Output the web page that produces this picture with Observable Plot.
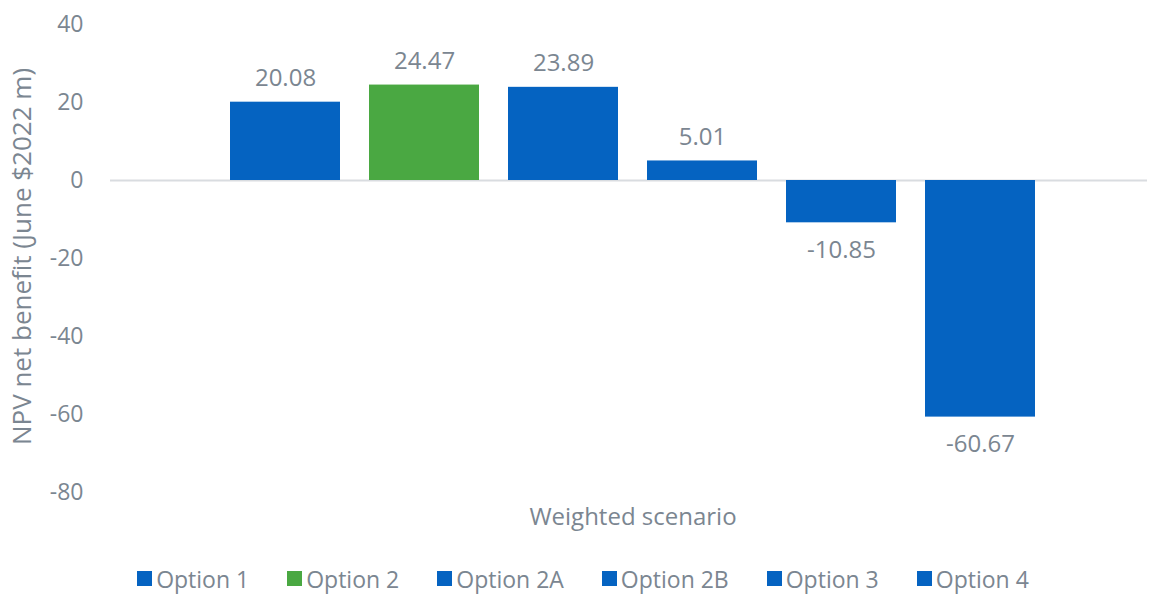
<!DOCTYPE html>
<html>
<head>
<meta charset="utf-8">
<script src="https://cdn.jsdelivr.net/npm/d3@7"></script>
<script src="https://cdn.jsdelivr.net/npm/@observablehq/plot@0.6"></script>
<style>
  html, body { margin: 0; padding: 0; background: #fff; }
  body { width: 1150px; height: 597px; overflow: hidden; font-family: "Open Sans", sans-serif; }
  #legend { display: flex; justify-content: center; align-items: center; gap: 38px; height: 37px; margin-left: 16px;
    font-size: 23px; color: #7b8691; font-family: "Open Sans", sans-serif; }
  #legend .item { display: flex; align-items: center; gap: 4px; }
  #legend .sw { width: 15px; height: 15px; display: inline-block; }
</style>
</head>
<body>
<div id="chart"></div>
<div id="legend"></div>
<script>
const options = ["Option 1", "Option 2", "Option 2A", "Option 2B", "Option 3", "Option 4"];
const values = [20.08, 24.47, 23.89, 5.01, -10.85, -60.67];
const colors = ["#0563C1", "#4AA842", "#0563C1", "#0563C1", "#0563C1", "#0563C1"];
const yTicks = [-80, -60, -40, -20, 0, 20, 40];
const xLabel = "Weighted scenario";
const yLabel = "NPV net benefit (June $2022 m)";

const data = options.map((o, i) => ({option: o, value: values[i], color: colors[i]}));
const gray = "#7b8691";

const chart = Plot.plot({
  width: 1150,
  height: 560,
  marginLeft: 110,
  marginRight: 3,
  marginTop: 24,
  marginBottom: 68,
  style: {fontFamily: "Open Sans, sans-serif", fontSize: "23px", color: gray, background: "#fff"},
  x: {domain: options, range: [215, 1049], paddingInner: 0.21, paddingOuter: 0.105, axis: null},
  y: {domain: [-80, 40], ticks: yTicks, label: null},
  marks: [
    Plot.axisY({ticks: yTicks, tickSize: 0, tickPadding: 27, label: null, fontSize: 23, fill: gray,
      tickFormat: d => String(d)}),
    Plot.ruleY([0], {stroke: "#d9dce0", strokeWidth: 2}),
    Plot.barY(data, {x: "option", y: "value", fill: "color"}),
    Plot.text(data, {
      x: "option", y: "value", text: d => d.value.toFixed(2),
      lineAnchor: "bottom", fill: gray, fontSize: 24,
      filter: d => d.value >= 0, dy: -16
    }),
    Plot.text(data, {
      x: "option", y: "value", text: d => d.value.toFixed(2),
      lineAnchor: "top", fill: gray, fontSize: 24,
      filter: d => d.value < 0, dy: 18
    }),
    Plot.text([xLabel], {text: d => d, frameAnchor: "bottom", dy: 32, dx: 4, fill: gray, fontSize: 24}),
    Plot.text([yLabel], {text: d => d, frameAnchor: "left", textAnchor: "middle", dx: -88, dy: -2, rotate: -90, fill: gray, fontSize: 26})
  ]
});
document.getElementById("chart").appendChild(chart);

const legend = document.getElementById("legend");
options.forEach((o, i) => {
  const item = document.createElement("div");
  item.className = "item";
  const sw = document.createElement("span");
  sw.className = "sw";
  sw.style.background = colors[i];
  const t = document.createElement("span");
  t.textContent = o;
  item.appendChild(sw);
  item.appendChild(t);
  legend.appendChild(item);
});
</script>
</body>
</html>
